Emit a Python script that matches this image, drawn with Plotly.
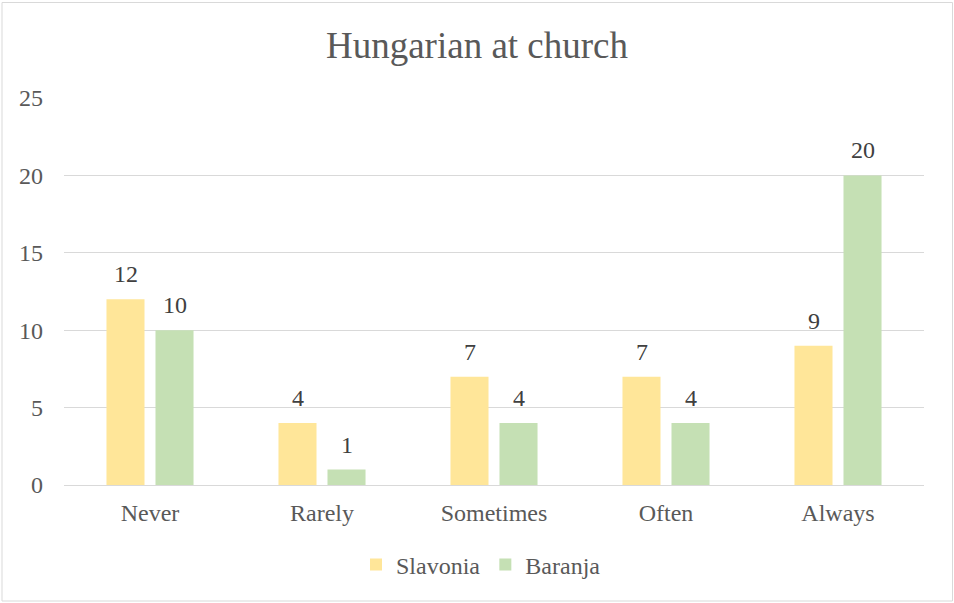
import plotly.graph_objects as go

categories = ["Never", "Rarely", "Sometimes", "Often", "Always"]
slavonia = [12, 4, 7, 7, 9]
baranja = [10, 1, 4, 4, 20]
y_ticks = [0, 5, 10, 15, 20, 25]

FONT = "Liberation Serif"
L, R, T, B = 64, 30, 98, 118
W, H = 954, 603
pw, ph = W - L - R, H - T - B
BAR_OFF = 24.5  # px offset of each bar centre from category centre

fig = go.Figure()
fig.add_trace(go.Bar(name="Slavonia", x=categories, y=slavonia, marker_color="#FFE699",
                     marker_line_width=0))
fig.add_trace(go.Bar(name="Baranja", x=categories, y=baranja, marker_color="#C5E0B4",
                     marker_line_width=0))

for series, sign in ((slavonia, -1), (baranja, 1)):
    for c, v in zip(categories, series):
        fig.add_annotation(x=c, y=v, xref="x", yref="y", text=str(v), showarrow=False,
                           xshift=sign * BAR_OFF, yshift=25, yanchor="middle",
                           font=dict(family=FONT, size=24, color="#404040"))

fig.update_layout(
    width=W, height=H,
    margin=dict(l=L, r=R, t=T, b=B, autoexpand=False),
    paper_bgcolor="white", plot_bgcolor="white",
    font=dict(family=FONT, color="#595959", size=24),
    title=dict(text="Hungarian at church", x=0.5, xanchor="center", y=1 - 45 / H, yanchor="middle",
               font=dict(family=FONT, size=37, color="#595959")),
    barmode="group", bargap=0.43, bargroupgap=0.224,
    showlegend=True,
    legend=dict(orientation="h", x=0.5 - 13 / pw, xanchor="center", yref="container", y=1 - 565 / H,
                yanchor="middle", bgcolor="rgba(0,0,0,0)",
                font=dict(family=FONT, size=24, color="#595959")),
    xaxis=dict(showline=False, ticks="", ticklabelstandoff=11,
               tickfont=dict(family=FONT, size=24, color="#595959")),
    yaxis=dict(range=[0, 25], tickvals=y_ticks, showgrid=True, gridcolor="#D9D9D9", gridwidth=1,
               zeroline=True, zerolinecolor="#D9D9D9", zerolinewidth=1, showline=False,
               ticks="", ticklabelstandoff=20,
               tickfont=dict(family=FONT, size=24, color="#595959")),
)

fig.add_shape(type="rect", xref="paper", yref="paper",
              x0=(2 - L) / pw, x1=(952.5 - L) / pw,
              y0=(H - B - 601) / ph, y1=(H - B - 2.5) / ph,
              line=dict(color="#D9D9D9", width=1), layer="below")

fig.write_html("out.html", config={"displayModeBar": False},
               post_script="document.body.style.margin='0';document.body.style.overflow='hidden';")
